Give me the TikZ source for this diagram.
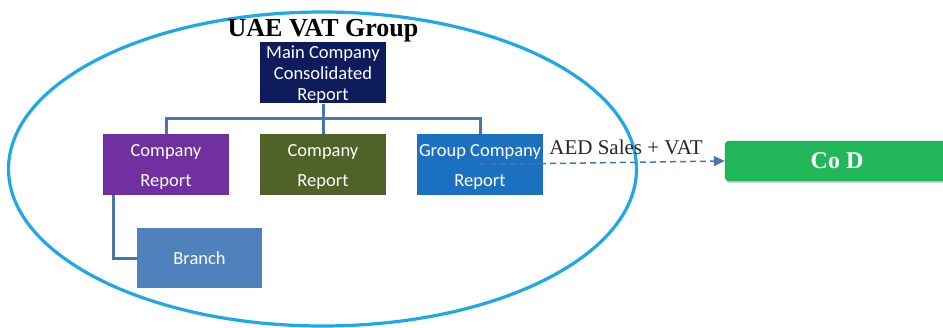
\documentclass[tikz,border=0pt]{standalone}
\usepackage{fontspec}
\setmainfont{Liberation Serif}
\newfontfamily\boxfont{Carlito}
\usetikzlibrary{arrows.meta,shadows}
\definecolor{ellcol}{RGB}{30,168,232}
\definecolor{navy}{RGB}{14,28,94}
\definecolor{purp}{RGB}{112,48,160}
\definecolor{olive}{RGB}{79,98,40}
\definecolor{grpblue}{RGB}{28,112,192}
\definecolor{brblue}{RGB}{79,129,189}
\definecolor{codgreen}{RGB}{34,184,90}
\definecolor{codborder}{RGB}{28,150,70}
\definecolor{conn}{RGB}{70,118,172}
\begin{document}
\begin{tikzpicture}[x=1pt,y=-1pt,
  orgbox/.style={minimum width=126pt,minimum height=61pt,inner sep=0pt,text=white,align=center,font=\boxfont\fontsize{18.5}{30}\selectfont},
  conline/.style={draw=conn,line width=3pt},
]
\useasboundingbox (0,0) rectangle (943,327);
\draw[ellcol,line width=3.2pt] (322.5,169) ellipse [x radius=314, y radius=157];
\node[font=\bfseries\fontsize{26}{28}\selectfont] (title) at (323,31) {UAE VAT Group};
\node[orgbox,fill=navy,font=\boxfont\fontsize{18.5}{21}\selectfont] (main) at (323,72.5) {\rule{0pt}{17pt}Main Company\\Consolidated\\Report};
\node[orgbox,fill=purp] (c1) at (166,164.5) {\rule{0pt}{17pt}Company\\Report};
\node[orgbox,fill=olive] (c2) at (323,164.5) {\rule{0pt}{17pt}Company\\Report};
\node[orgbox,fill=grpblue] (c3) at (480,164.5) {\rule{0pt}{17pt}Group Company\\Report};
\node[orgbox,fill=brblue,minimum width=125pt,minimum height=60pt] (br) at (199.5,258) {Branch};
\coordinate (bus) at (323,118);
\draw[conline] (main.south) -- (bus);
\draw[conline] (bus) -| (c1.north);
\draw[conline] (bus) -| (c3.north);
\draw[conline] (bus) -- (c2.north);
\draw[conline] ([xshift=11pt]c1.south west) |- (br.west);
\node[draw=codborder,fill=codgreen,rounded corners=4pt,minimum width=224pt,minimum height=40pt,text=white,font=\bfseries\fontsize{24}{26}\selectfont,drop shadow={opacity=0.35,shadow xshift=1pt,shadow yshift=-2pt}] (cod) at (837,161) {Co D};
\draw[conn,line width=1.5pt,dash pattern=on 6pt off 4pt,-{Triangle[length=11pt,width=10pt]}] (c3.center) -- (cod.west);
\node[font=\fontsize{21}{24}\selectfont,text=black!85] (lbl) at (626,147) {AED Sales + VAT};
\end{tikzpicture}
\end{document}
